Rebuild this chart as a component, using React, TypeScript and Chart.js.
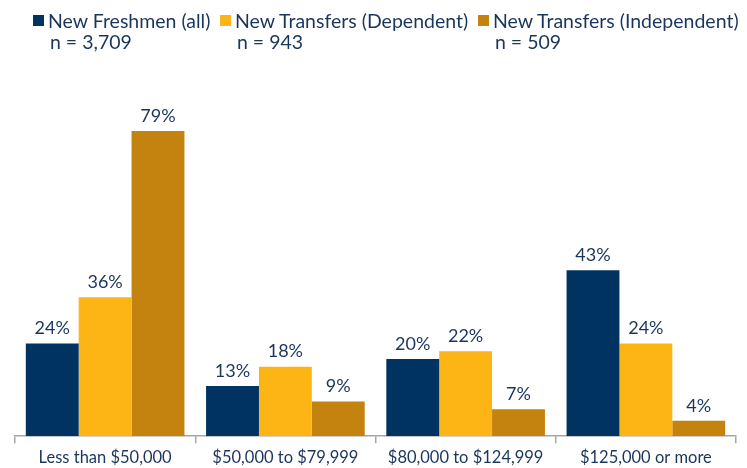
import React, { useEffect, useRef } from "react";
import { Chart, registerables } from "chart.js";

Chart.register(...registerables);

const categories = ["Less than $50,000", "$50,000 to $79,999", "$80,000 to $124,999", "$125,000 or more"];
const freshmen = [24, 13, 20, 43];
const transfersDep = [36, 18, 22, 24];
const transfersIndep = [79, 9, 7, 4];
const seriesNames = ["New Freshmen (all)", "New Transfers (Dependent)", "New Transfers (Independent)"];
const seriesN = ["n = 3,709", "n = 943", "n = 509"];
const colors = ["#003361", "#FDB515", "#C4820E"];
const TEXT = "#1B365D";
const FONT = "Lato, 'DejaVu Sans', sans-serif";

const labelPlugin = {
  id: "barLabels",
  afterDatasetsDraw(chart: any) {
    const ctx = chart.ctx;
    ctx.save();
    ctx.fillStyle = TEXT;
    ctx.font = `18px ${FONT}`;
    ctx.textAlign = "center";
    ctx.textBaseline = "bottom";
    chart.data.datasets.forEach((ds: any, i: number) => {
      const meta = chart.getDatasetMeta(i);
      meta.data.forEach((bar: any, j: number) => {
        ctx.fillText(`${ds.data[j]}%`, bar.x, bar.y - 6);
      });
    });
    ctx.restore();
  },
};

export default function App() {
  const ref = useRef<HTMLCanvasElement>(null);
  useEffect(() => {
    const chart = new Chart(ref.current!, {
      type: "bar",
      data: {
        labels: categories,
        datasets: [
          { label: seriesNames[0], data: freshmen, backgroundColor: colors[0] },
          { label: seriesNames[1], data: transfersDep, backgroundColor: colors[1] },
          { label: seriesNames[2], data: transfersIndep, backgroundColor: colors[2] },
        ],
      },
      options: {
        animation: false,
        responsive: false,
        layout: { padding: { left: 15, right: 11, top: 50, bottom: -5 } },
        datasets: { bar: { categoryPercentage: 0.88, barPercentage: 1 } },
        plugins: { legend: { display: false }, tooltip: { enabled: false } },
        scales: {
          y: { display: false, min: 0, max: 100 },
          x: {
            border: { color: "#A6A6A6", width: 1.5 },
            grid: { drawOnChartArea: false, tickLength: 7, color: "#A6A6A6", lineWidth: 1.5, offset: true },
            ticks: { color: TEXT, font: { size: 16.5, family: FONT }, padding: 5 },
          },
        },
      },
      plugins: [labelPlugin],
    });
    return () => chart.destroy();
  }, []);

  const legendX = [33, 220, 478];
  return (
    <div style={{ position: "fixed", left: 0, top: 0, width: 747, height: 468, background: "#fff", fontFamily: FONT, color: TEXT }}>
      <canvas ref={ref} width={747} height={468} style={{ position: "absolute", left: 0, top: 0 }} />
      {seriesNames.map((name, i) => (
        <div key={name} style={{ position: "absolute", left: legendX[i], top: 10, whiteSpace: "nowrap" }}>
          <div style={{ display: "flex", alignItems: "center", fontSize: 19.5, lineHeight: "21px" }}>
            <span style={{ display: "inline-block", width: 11, height: 11, background: colors[i], marginRight: 4 }} />
            <span>{name}</span>
          </div>
          <div style={{ fontSize: 19.5, lineHeight: "21px", marginLeft: 17 }}>{seriesN[i]}</div>
        </div>
      ))}
    </div>
  );
}
